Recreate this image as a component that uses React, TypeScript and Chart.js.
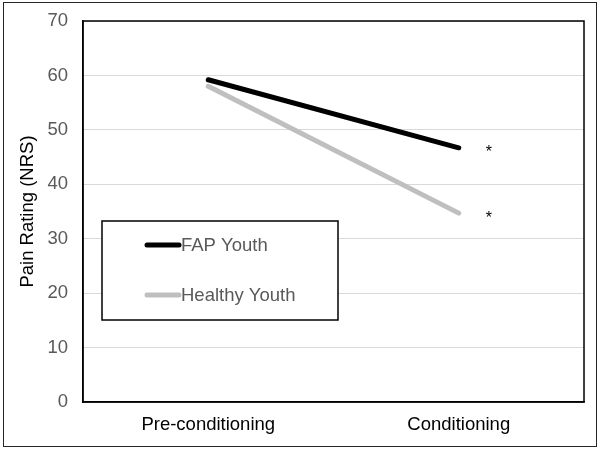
import React, { useEffect, useRef } from "react";
import { Chart, registerables } from "chart.js";

Chart.register(...registerables);

const categories = ["Pre-conditioning", "Conditioning"];
const fapYouth = [59.2, 46.7];
const healthyYouth = [58.0, 34.7];
const seriesNames = ["FAP Youth", "Healthy Youth"];
const seriesColors = ["#000000", "#bfbfbf"];
const significance = ["*", "*"];
const yTitle = "Pain Rating (NRS)";

const FONT = "'Liberation Sans', Arial, sans-serif";
const FS = 18.5;

const framePlugin = {
  id: "frame",
  beforeDraw(chart: any) {
    const { ctx, width, height } = chart;
    ctx.save();
    ctx.fillStyle = "#ffffff";
    ctx.fillRect(0, 0, width, height);
    ctx.strokeStyle = "#262626";
    ctx.lineWidth = 1;
    ctx.strokeRect(3.5, 2.5, width - 7, height - 6);
    ctx.restore();
  },
  afterDraw(chart: any) {
    const { ctx, chartArea } = chart;
    ctx.save();
    ctx.strokeStyle = "#000000";
    ctx.lineWidth = 1.5;
    ctx.strokeRect(
      chartArea.left,
      chartArea.top,
      chartArea.right - chartArea.left,
      chartArea.bottom - chartArea.top
    );
    ctx.restore();
  },
};

const starPlugin = {
  id: "stars",
  afterDatasetsDraw(chart: any) {
    const { ctx } = chart;
    ctx.save();
    ctx.fillStyle = "#000000";
    ctx.font = `16px ${FONT}`;
    ctx.textAlign = "center";
    ctx.textBaseline = "middle";
    chart.data.datasets.forEach((ds: any, i: number) => {
      const meta = chart.getDatasetMeta(i);
      const pt = meta.data[meta.data.length - 1];
      if (pt && significance[i]) {
        ctx.fillText(significance[i], pt.x + 30, pt.y + 5);
      }
    });
    ctx.restore();
  },
};

const boxLegendPlugin = {
  id: "boxLegend",
  afterDraw(chart: any) {
    const { ctx, chartArea } = chart;
    const x0 = chartArea.left + 19;
    const y0 = chartArea.top + 200;
    const w = 236;
    const h = 99;
    ctx.save();
    ctx.fillStyle = "#ffffff";
    ctx.fillRect(x0, y0, w, h);
    ctx.strokeStyle = "#000000";
    ctx.lineWidth = 1.5;
    ctx.strokeRect(x0, y0, w, h);
    ctx.font = `${FS}px ${FONT}`;
    ctx.textBaseline = "middle";
    ctx.textAlign = "left";
    chart.data.datasets.forEach((ds: any, i: number) => {
      const cy = y0 + 24 + i * 50;
      ctx.strokeStyle = ds.borderColor;
      ctx.lineWidth = 5;
      ctx.lineCap = "round";
      ctx.beginPath();
      ctx.moveTo(x0 + 45, cy);
      ctx.lineTo(x0 + 77, cy);
      ctx.stroke();
      ctx.fillStyle = "#595959";
      ctx.fillText(ds.label, x0 + 79, cy + 1);
    });
    ctx.restore();
  },
};

export default function App() {
  const canvasRef = useRef<HTMLCanvasElement | null>(null);

  useEffect(() => {
    document.body.style.margin = "0";
    const canvas = canvasRef.current;
    if (!canvas) return;
    const chart = new Chart(canvas, {
      type: "line",
      data: {
        labels: categories,
        datasets: [
          {
            label: seriesNames[0],
            data: fapYouth,
            borderColor: seriesColors[0],
            backgroundColor: seriesColors[0],
            borderWidth: 5,
            pointRadius: 0,
            borderCapStyle: "round",
            tension: 0,
          },
          {
            label: seriesNames[1],
            data: healthyYouth,
            borderColor: seriesColors[1],
            backgroundColor: seriesColors[1],
            borderWidth: 5,
            pointRadius: 0,
            borderCapStyle: "round",
            tension: 0,
          },
        ],
      },
      options: {
        animation: false,
        responsive: false,
        maintainAspectRatio: false,
        layout: { padding: { left: 0, top: 21, right: 16, bottom: 0 } },
        plugins: {
          legend: { display: false },
          tooltip: { enabled: false },
        },
        scales: {
          x: {
            offset: true,
            grid: { display: false, drawTicks: false },
            border: { display: true, color: "#000000", width: 1.5 },
            ticks: {
              color: "#000000",
              font: { family: FONT, size: FS },
              padding: 12,
            },
            afterFit(scale: any) {
              scale.height = 48;
              scale.paddingLeft = 0;
              scale.paddingRight = 0;
            },
          },
          y: {
            min: 0,
            max: 70,
            ticks: {
              stepSize: 10,
              color: "#595959",
              font: { family: FONT, size: FS },
              padding: 15,
            },
            grid: { color: "#d9d9d9", lineWidth: 1, drawTicks: false },
            border: { display: true, color: "#000000", width: 1.5 },
            title: {
              display: true,
              text: yTitle,
              color: "#000000",
              font: { family: FONT, size: FS },
              padding: { top: 17, bottom: 0 },
            },
            afterFit(scale: any) {
              scale.width = 83;
              scale.paddingTop = 0;
              scale.paddingBottom = 0;
            },
          },
        },
      },
      plugins: [framePlugin, starPlugin, boxLegendPlugin],
    } as any);
    return () => chart.destroy();
  }, []);

  return (
    <div style={{ width: 600, height: 450 }}>
      <canvas ref={canvasRef} width={600} height={450} style={{ display: "block" }} />
    </div>
  );
}
